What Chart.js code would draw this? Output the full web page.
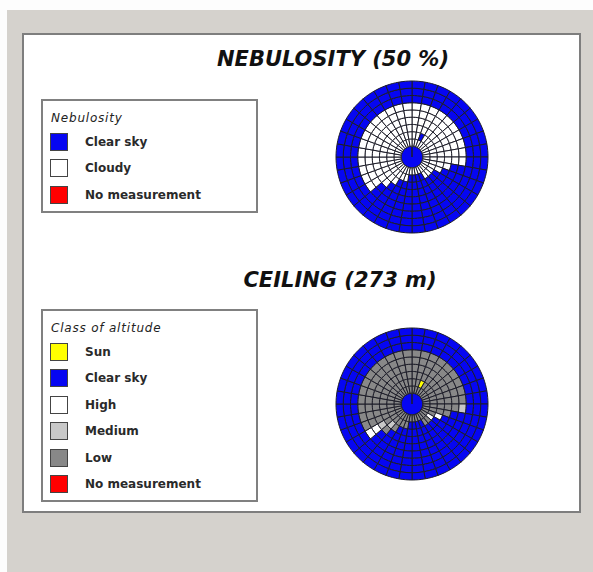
<!DOCTYPE html>
<html>
<head>
<meta charset="utf-8">
<script src="https://cdn.jsdelivr.net/npm/chart.js@4"></script>
<style>
  html, body { margin: 0; padding: 0; }
  body { width: 593px; height: 572px; background: #fdfdfd; position: relative; overflow: hidden; font-family: "DejaVu Sans", Verdana, sans-serif; }
  #gray { position: absolute; left: 7px; top: 10px; right: 0; bottom: 0; background: #d5d2cd; }
  #frame { position: absolute; left: 22px; top: 33px; width: 559px; height: 480px; box-sizing: border-box; background: #fff; border: 2px solid #7e7e7e; }
  .title { position: absolute; width: 320px; text-align: center; font-weight: bold; font-style: italic; font-size: 21px; line-height: 21px; color: #111; white-space: nowrap; }
  .legend { position: absolute; left: 41px; width: 217px; box-sizing: border-box; border: 2px solid #808080; background: #fff; }
  .legend .lt { position: absolute; left: 8px; top: 10px; font-style: italic; font-size: 12px; line-height: 14px; letter-spacing: 0.8px; color: #222; white-space: nowrap; }
  .legend .row { position: absolute; left: 7px; height: 18px; display: flex; align-items: center; }
  .legend .sw { width: 16px; height: 16px; border: 1px solid #444; }
  .legend .lab { margin-left: 17px; font-size: 12px; font-weight: bold; color: #2a2a2a; white-space: nowrap; }
  .plot { position: absolute; width: 180px; height: 180px; }
</style>
</head>
<body>
<div id="gray"></div>
<div id="frame"></div>
<div class="title" id="t1" style="left:173px; top:49px;"></div>
<div class="title" id="t2" style="left:180px; top:270px;"></div>
<div class="legend" id="leg1" style="top:99px; height:114px;"></div>
<div class="legend" id="leg2" style="top:309px; height:193px;"></div>
<div class="plot" style="left:322px; top:67px;"><canvas id="c1" width="180" height="180"></canvas></div>
<div class="plot" style="left:322px; top:314px;"><canvas id="c2" width="180" height="180"></canvas></div>
<script>
// ---------- DATA ----------
const titles = ["NEBULOSITY (50 %)", "CEILING (273 m)"];

// Azimuth sectors (10 degrees each, clockwise from top)
const sectorLabels = ["0°","10°","20°","30°","40°","50°","60°","70°","80°","90°","100°","110°",
  "120°","130°","140°","150°","160°","170°","180°","190°","200°","210°","220°","230°",
  "240°","250°","260°","270°","280°","290°","300°","310°","320°","330°","340°","350°"];

// Legend categories
const nebulosityLegendTitle = "Nebulosity";
const nebulosityCodes  = ["B", "W", "N"];
const nebulosityNames  = ["Clear sky", "Cloudy", "No measurement"];

const ceilingLegendTitle = "Class of altitude";
const ceilingCodes = ["S", "B", "H", "M", "L", "N"];
const ceilingNames = ["Sun", "Clear sky", "High", "Medium", "Low", "No measurement"];

// Cell classes per ring (innermost ring first), one char per 10° sector
// B clear sky, W cloudy, N no measurement
const nebulosityCenter = "B";
const nebulosityRings = [
  "WWWWWWWWWWWWWWWWWWWWWWWWWWWWWWWWWWWW",
  "WWBWWWWWWWWWWWWBBBBWWWWWWWWWWWWWWWWW",
  "WWWWWWWWWWWWBBBBBBBBBWWWWWWWWWWWWWWW",
  "WWWWWWWWWWWBBBBBBBBBBBWWWWWWWWWWWWWW",
  "WWWWWWWWWWBBBBBBBBBBBBBWWWWWWWWWWWWW",
  "WWWWWWWWWWBBBBBBBBBBBBBWWWWWWWWWWWWW",
  "BBBBBBBBBBBBBBBBBBBBBBBBBBBBBBBBBBBB",
  "BBBBBBBBBBBBBBBBBBBBBBBBBBBBBBBBBBBB",
  "BBBBBBBBBBBBBBBBBBBBBBBBBBBBBBBBBBBB"
];

// S sun, B clear sky, H high, M medium, L low, N no measurement
const ceilingCenter = "B";
const ceilingRings = [
  "LLLLLLLLLLLLLLLLLLLLLLLLLLLLLLLLLLLL",
  "LLSLLLLLLLLLHLLBBBBLLLLLLLLLLLLLLLLL",
  "LLLLLLLLLLLHBBBBBBBBBLMLLLLLLLLLLLLL",
  "LLLLLLLLLLLBBBBBBBBBBBLMLLLLLLLLLLLL",
  "LLLLLLLLLLBBBBBBBBBBBBBHLLLLLLLLLLLL",
  "LLLLLLLLLMBBBBBBBBBBBBBHLLLLLLLLLLLL",
  "BBBBBBBBBBBBBBBBBBBBBBBBBBBBBBBBBBBB",
  "BBBBBBBBBBBBBBBBBBBBBBBBBBBBBBBBBBBB",
  "BBBBBBBBBBBBBBBBBBBBBBBBBBBBBBBBBBBB"
];

// ---------- STYLE ----------
const classColors = { B: "#0606f2", W: "#ffffff", N: "#ff0000", S: "#ffff00", H: "#ffffff", M: "#c8c8c8", L: "#888888" };
const cellBorder = "#1c1c28";

// ---------- BUILD ----------
document.getElementById("t1").textContent = titles[0];
document.getElementById("t2").textContent = titles[1];

function buildLegend(id, title, codes, names) {
  const box = document.getElementById(id);
  const t = document.createElement("div");
  t.className = "lt"; t.textContent = title; box.appendChild(t);
  codes.forEach((c, i) => {
    const row = document.createElement("div");
    row.className = "row";
    row.style.top = (32 + i * 26.4) + "px";
    const sw = document.createElement("div");
    sw.className = "sw"; sw.style.background = classColors[c];
    const lab = document.createElement("div");
    lab.className = "lab"; lab.textContent = names[i];
    row.appendChild(sw); row.appendChild(lab);
    box.appendChild(row);
  });
}
buildLegend("leg1", nebulosityLegendTitle, nebulosityCodes, nebulosityNames);
buildLegend("leg2", ceilingLegendTitle, ceilingCodes, ceilingNames);

function buildSky(canvasId, rings, center) {
  const datasets = [];
  for (let r = rings.length - 1; r >= 0; r--) {
    const cells = rings[r].split("");
    datasets.push({
      data: sectorLabels.map(() => 10),
      backgroundColor: cells.map(c => classColors[c]),
      borderColor: cellBorder,
      borderWidth: 1,
      weight: 1
    });
  }
  datasets.push({
    data: [360],
    backgroundColor: [classColors[center]],
    borderColor: cellBorder,
    borderWidth: 1,
    weight: 1.5
  });
  new Chart(document.getElementById(canvasId), {
    type: "doughnut",
    data: { labels: sectorLabels, datasets },
    options: {
      responsive: false,
      devicePixelRatio: 1,
      animation: false,
      events: [],
      cutout: 0,
      radius: 76,
      layout: { padding: 0 },
      plugins: { legend: { display: false }, tooltip: { enabled: false }, title: { display: false } }
    }
  });
}
buildSky("c1", nebulosityRings, nebulosityCenter);
buildSky("c2", ceilingRings, ceilingCenter);
</script>
</body>
</html>
